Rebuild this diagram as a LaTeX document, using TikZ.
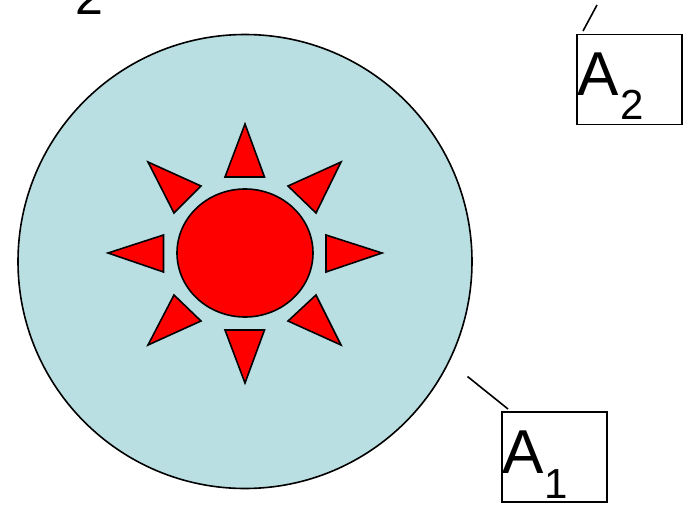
\documentclass[tikz,border=0pt]{standalone}
\usepackage{fontspec}
\setmainfont{Liberation Sans}
\usepackage{tikz}
\usetikzlibrary{positioning}
\definecolor{diskblue}{HTML}{BADFE3}

\begin{document}
\begin{tikzpicture}[x=1pt,y=-1pt,
   disk/.style={draw,line width=1.6pt,fill=diskblue},
   ray/.style={draw,line width=1.6pt,fill=red,line join=miter},
   tag/.style={rectangle,draw,line width=1.6pt,minimum width=105pt,minimum height=90pt,inner sep=0pt},
   big/.style={font=\fontsize{62}{62}\selectfont,inner sep=0pt,anchor=base west},
   sub/.style={font=\fontsize{42}{42}\selectfont,inner sep=0pt,anchor=base west},
   lead/.style={line width=1.6pt}]
  \useasboundingbox (0,0) rectangle (683,506);
  \clip (0,0) rectangle (683,506);
  \draw[disk] (245,261.5) circle[radius=227];
  \draw[ray] (245,253) circle[x radius=68,y radius=64];
  \draw[ray] (245,124)--(225,177)--(264.5,177)--cycle;
  \draw[ray] (245,383)--(225,330)--(264.5,330)--cycle;
  \draw[ray] (108,253)--(163.5,235)--(163.5,272)--cycle;
  \draw[ray] (382,253)--(326,235)--(326,272)--cycle;
  \draw[ray] (148,162)--(201,186)--(174,213)--cycle;
  \draw[ray] (341,162)--(288,186)--(316,213)--cycle;
  \draw[ray] (148,345)--(201,321)--(174,295)--cycle;
  \draw[ray] (341,345)--(288,321)--(316,295)--cycle;
  \node[tag] (aone) at (554.5,457) {};
  \node[tag] (atwo) at (629.5,79.5) {};
  \node[big] (aonebig) at (502,473) {A};
  \node[sub] (aonesub) at (544,498) {1};
  \node[big] (atwobig) at (577,95) {A};
  \node[sub] (atwosub) at (620,119.5) {2};
  \node[font=\fontsize{50}{50}\selectfont,inner sep=0pt,anchor=base] (two) at (89.5,14) {2};
  \coordinate (aonefoot) at (467.5,376.5);
  \coordinate (aonehead) at (508,409);
  \coordinate (atwofoot) at (597,5);
  \coordinate (atwohead) at (583,31);
  \draw[lead] (aonefoot)--(aonehead);
  \draw[lead] (atwofoot)--(atwohead);
\end{tikzpicture}
\end{document}
